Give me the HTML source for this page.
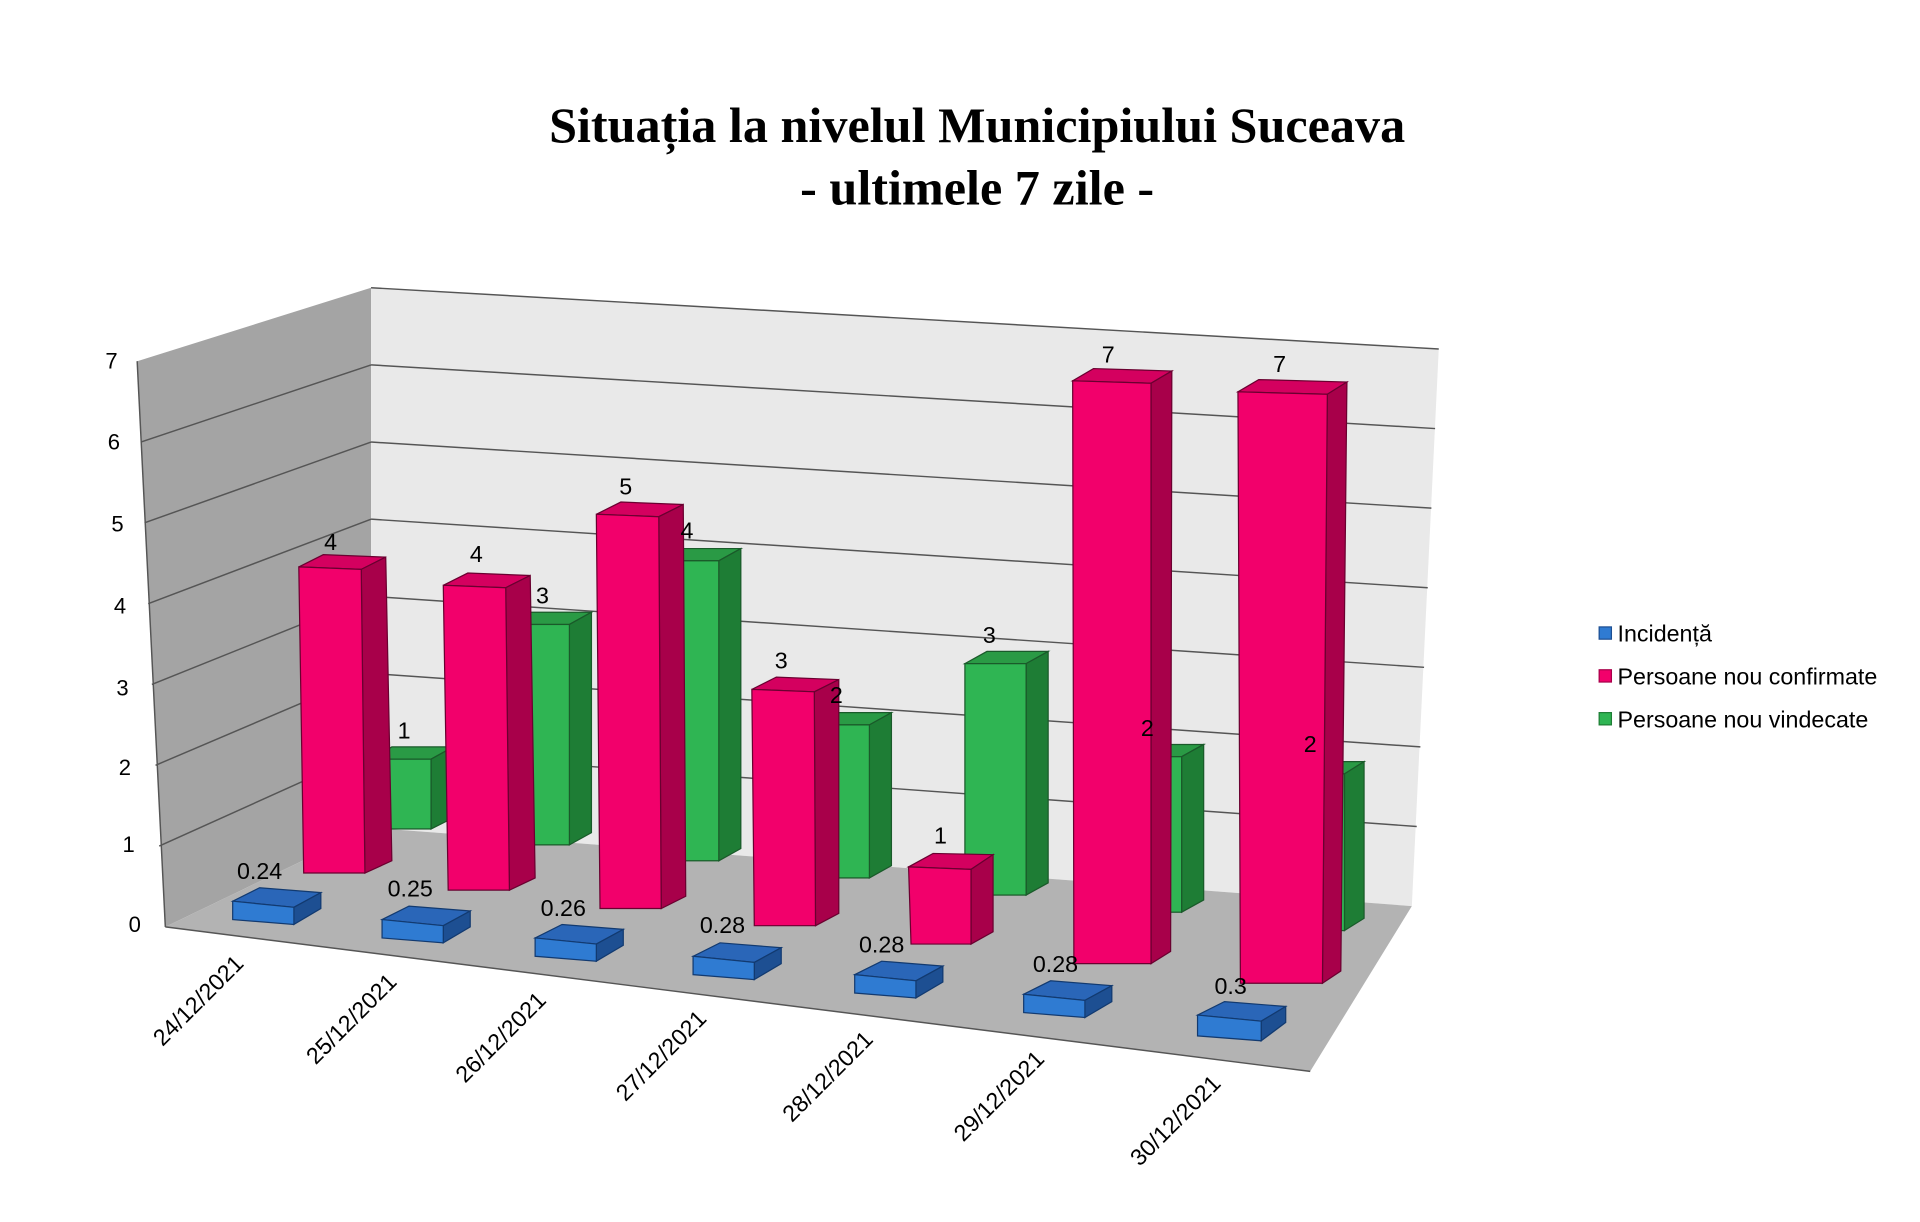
<!DOCTYPE html>
<html><head><meta charset="utf-8"><style>html,body{margin:0;padding:0;background:#fff}svg{display:block}</style></head><body>
<svg width="1920" height="1222" viewBox="0 0 1568 998" xmlns="http://www.w3.org/2000/svg" font-family="Liberation Sans, sans-serif">
<text x="798" y="116" text-anchor="middle" font-family="Liberation Serif, serif" font-weight="bold" font-size="41">Situația la nivelul Municipiului Suceava</text>
<text x="798" y="167" text-anchor="middle" font-family="Liberation Serif, serif" font-weight="bold" font-size="41">- ultimele 7 zile -</text>
<polygon points="112,295 303,235 303,676 135,757" fill="#a4a4a4"/>
<polygon points="303,235 1175,285 1153,740 303,676" fill="#e9e9e9"/>
<polygon points="135,757 303,676 1153,740 1070,875" fill="#b3b3b3"/>
<g stroke="#555" stroke-width="1.2" fill="none">
<line x1="303" y1="235" x2="1175" y2="285"/>
<line x1="303" y1="298" x2="1172" y2="350"/>
<line x1="303" y1="361" x2="1169" y2="415"/>
<line x1="303" y1="424" x2="1166" y2="480"/>
<line x1="303" y1="487" x2="1163" y2="545"/>
<line x1="303" y1="550" x2="1160" y2="610"/>
<line x1="303" y1="613" x2="1157" y2="675"/>
<line x1="115" y1="361" x2="303" y2="298"/>
<line x1="118" y1="427" x2="303" y2="361"/>
<line x1="121" y1="493" x2="303" y2="424"/>
<line x1="124" y1="559" x2="303" y2="487"/>
<line x1="127" y1="625" x2="303" y2="550"/>
<line x1="130" y1="691" x2="303" y2="613"/>
<line x1="112" y1="295" x2="135" y2="757"/>
<line x1="135" y1="757" x2="1070" y2="875"/>
</g>
<g font-size="18" text-anchor="end">
<text x="96" y="301">7</text><text x="98" y="367">6</text><text x="101" y="434">5</text><text x="103" y="501">4</text><text x="105" y="568">3</text><text x="107" y="633">2</text><text x="110" y="696">1</text><text x="115" y="761">0</text>
</g>
<g stroke="#1a5a2a" stroke-width="1">
<polygon points="302,620 352,620 370,610 320,610" fill="#2a9a45"/><polygon points="352,620 370,610 370,668 352,677" fill="#1e7d35"/><rect x="302" y="620" width="50" height="57" fill="#2fb553"/>
<polygon points="415,510 465,510 483,500 433,500" fill="#2a9a45"/><polygon points="465,510 483,500 483,680 465,690" fill="#1e7d35"/><rect x="415" y="510" width="50" height="180" fill="#2fb553"/>
<polygon points="537,458 587,458 605,448 555,448" fill="#2a9a45"/><polygon points="587,458 605,448 605,693 587,703" fill="#1e7d35"/><rect x="537" y="458" width="50" height="245" fill="#2fb553"/>
<polygon points="660,592 710,592 728,582 678,582" fill="#2a9a45"/><polygon points="710,592 728,582 728,707 710,717" fill="#1e7d35"/><rect x="660" y="592" width="50" height="125" fill="#2fb553"/>
<polygon points="788,542 838,542 856,532 806,532" fill="#2a9a45"/><polygon points="838,542 856,532 856,721 838,731" fill="#1e7d35"/><rect x="788" y="542" width="50" height="189" fill="#2fb553"/>
<polygon points="915,618 965,618 983,608 933,608" fill="#2a9a45"/><polygon points="965,618 983,608 983,735 965,745" fill="#1e7d35"/><rect x="915" y="618" width="50" height="127" fill="#2fb553"/>
<polygon points="1048,632 1098,632 1114,622 1064,622" fill="#2a9a45"/><polygon points="1098,632 1114,622 1114,750 1098,760" fill="#1e7d35"/><rect x="1048" y="632" width="50" height="128" fill="#2fb553"/>
</g>
<g stroke="#6a0030" stroke-width="1">
<polygon points="244,463 295,465 315,455 264,453" fill="#d4005f"/><polygon points="295,465 315,455 320,703 298,713" fill="#a8004a"/><polygon points="244,463 295,465 298,713 248,713" fill="#f2006b"/>
<polygon points="362,478 413,480 433,470 382,468" fill="#d4005f"/><polygon points="413,480 433,470 437,717 416,727" fill="#a8004a"/><polygon points="362,478 413,480 416,727 366,727" fill="#f2006b"/>
<polygon points="487,420 538,422 558,412 507,410" fill="#d4005f"/><polygon points="538,422 558,412 560,732 540,742" fill="#a8004a"/><polygon points="487,420 538,422 540,742 490,742" fill="#f2006b"/>
<polygon points="614,563 665,565 685,555 634,553" fill="#d4005f"/><polygon points="665,565 685,555 685,746 666,756" fill="#a8004a"/><polygon points="614,563 665,565 666,756 616,756" fill="#f2006b"/>
<polygon points="742,708 793,710 811,698 762,697" fill="#d4005f"/><polygon points="793,710 811,698 811,761 793,771" fill="#a8004a"/><polygon points="742,708 793,710 793,771 744,771" fill="#f2006b"/>
<polygon points="876,311 940,313 957,303 893,301" fill="#d4005f"/><polygon points="940,313 957,303 956,777 940,787" fill="#a8004a"/><polygon points="876,311 940,313 940,787 877,787" fill="#f2006b"/>
<polygon points="1011,320 1084,322 1100,312 1028,310" fill="#d4005f"/><polygon points="1084,322 1100,312 1095,793 1080,803" fill="#a8004a"/><polygon points="1011,320 1084,322 1080,803 1013,803" fill="#f2006b"/>
</g>
<g stroke="#123a70" stroke-width="1">
<polygon points="190,736 240,741 262,729 212,725" fill="#2a66b8"/><polygon points="240,741 262,729 262,742 240,755" fill="#1d4f92"/><polygon points="190,736 240,741 240,755 190,751" fill="#2f7bd2"/>
<polygon points="312,751 362,756 384,744 334,740" fill="#2a66b8"/><polygon points="362,756 384,744 384,757 362,770" fill="#1d4f92"/><polygon points="312,751 362,756 362,770 312,766" fill="#2f7bd2"/>
<polygon points="437,766 487,771 509,759 459,755" fill="#2a66b8"/><polygon points="487,771 509,759 509,772 487,785" fill="#1d4f92"/><polygon points="437,766 487,771 487,785 437,781" fill="#2f7bd2"/>
<polygon points="566,781 616,786 638,774 588,770" fill="#2a66b8"/><polygon points="616,786 638,774 638,787 616,800" fill="#1d4f92"/><polygon points="566,781 616,786 616,800 566,796" fill="#2f7bd2"/>
<polygon points="698,796 748,801 770,789 720,785" fill="#2a66b8"/><polygon points="748,801 770,789 770,802 748,815" fill="#1d4f92"/><polygon points="698,796 748,801 748,815 698,811" fill="#2f7bd2"/>
<polygon points="836,812 886,817 908,805 858,801" fill="#2a66b8"/><polygon points="886,817 908,805 908,818 886,831" fill="#1d4f92"/><polygon points="836,812 886,817 886,831 836,827" fill="#2f7bd2"/>
<polygon points="978,829 1030,834 1050,822 1000,818" fill="#2a66b8"/><polygon points="1030,834 1050,822 1050,835 1030,850" fill="#1d4f92"/><polygon points="978,829 1030,834 1030,850 978,846" fill="#2f7bd2"/>
</g>
<g font-size="19" text-anchor="middle">
<text x="270" y="449">4</text><text x="389" y="459">4</text><text x="511" y="404">5</text><text x="638" y="546">3</text><text x="768" y="689">1</text><text x="905" y="296">7</text><text x="1045" y="304">7</text>
<text x="330" y="603">1</text><text x="443" y="493">3</text><text x="561" y="440">4</text><text x="683" y="574">2</text><text x="808" y="525">3</text><text x="937" y="601">2</text><text x="1070" y="614">2</text>
<text x="212" y="718">0.24</text><text x="335" y="732">0.25</text><text x="460" y="748">0.26</text><text x="590" y="762">0.28</text><text x="720" y="778">0.28</text><text x="862" y="794">0.28</text><text x="1005" y="812">0.3</text>
</g>
<g font-size="19" text-anchor="end">
<text transform="translate(200,788) rotate(-45)">24/12/2021</text>
<text transform="translate(325,803) rotate(-45)">25/12/2021</text>
<text transform="translate(447,818) rotate(-45)">26/12/2021</text>
<text transform="translate(578,833) rotate(-45)">27/12/2021</text>
<text transform="translate(714,850) rotate(-45)">28/12/2021</text>
<text transform="translate(854,866) rotate(-45)">29/12/2021</text>
<text transform="translate(998,886) rotate(-45)">30/12/2021</text>
</g>
<rect x="1306" y="512" width="10" height="10" fill="#2f7bd2" stroke="#1d4f92"/>
<rect x="1306" y="547" width="10" height="10" fill="#f2006b" stroke="#a8004a"/>
<rect x="1306" y="582" width="10" height="10" fill="#2fb553" stroke="#1e7d35"/>
<g font-size="19"><text x="1321" y="524">Incidență</text><text x="1321" y="559">Persoane nou confirmate</text><text x="1321" y="594">Persoane nou vindecate</text></g>
</svg>
</body></html>
